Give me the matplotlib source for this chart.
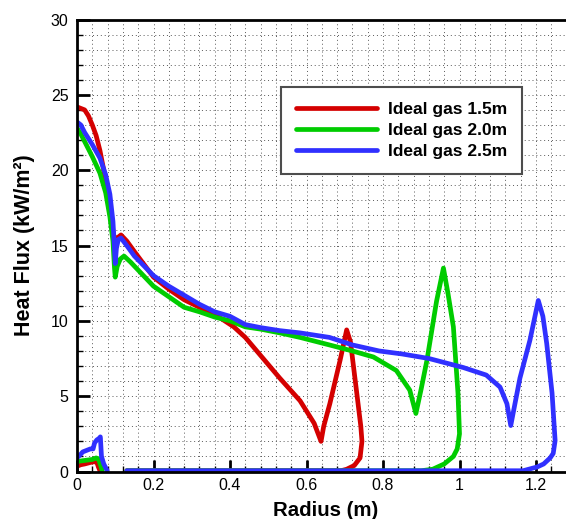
import numpy as np
import matplotlib
matplotlib.use('Agg')
import matplotlib.pyplot as plt
from matplotlib.ticker import MultipleLocator, FuncFormatter

plt.rcParams['font.family'] = ['Liberation Sans', 'DejaVu Sans']

labels = ['Ideal gas 1.5m', 'Ideal gas 2.0m', 'Ideal gas 2.5m']
colors = ['#d40000', '#00cc00', '#3030ff']

# small bump near the axis (inner branch)
red_in_x = [0.0, 0.01, 0.02, 0.035, 0.045, 0.052, 0.056, 0.06]
red_in_y = [0.35, 0.45, 0.5, 0.6, 0.65, 0.6, 0.3, 0.05]
green_in_x = [0.0, 0.01, 0.025, 0.04, 0.05, 0.056, 0.062, 0.066]
green_in_y = [0.65, 0.7, 0.75, 0.8, 0.9, 0.85, 0.4, 0.05]
blue_in_x = [0.0, 0.008, 0.015, 0.025, 0.035, 0.042, 0.046, 0.052, 0.058, 0.061, 0.064, 0.07, 0.076, 0.079]
blue_in_y = [0.9, 1.1, 1.3, 1.4, 1.5, 1.5, 1.9, 2.1, 2.2, 2.3, 1.0, 0.5, 0.2, 0.05]

# main branch: wall profile, peak, then back along zero
red_x = [0.0, 0.01, 0.02, 0.03, 0.04, 0.05, 0.06, 0.07, 0.08, 0.088, 0.095, 0.10, 0.105, 0.115,
         0.13, 0.15, 0.2, 0.24, 0.28, 0.32, 0.36, 0.38, 0.41, 0.44, 0.48, 0.53, 0.583, 0.62, 0.638,
         0.645, 0.661, 0.688, 0.705, 0.715, 0.73, 0.742, 0.745, 0.74, 0.725, 0.705, 0.69, 0.5, 0.13]
red_y = [24.2, 24.1, 24.0, 23.6, 23.0, 22.3, 21.3, 20.0, 18.5, 17.0, 15.8, 15.3, 15.5, 15.7,
         15.3, 14.6, 12.9, 12.1, 11.4, 10.9, 10.4, 10.1, 9.6, 8.9, 7.7, 6.2, 4.7, 3.2, 2.0,
         3.0, 4.5, 7.4, 9.4, 8.6, 5.5, 3.0, 2.0, 0.9, 0.4, 0.15, 0.05, 0.05, 0.05]

green_x = [0.0, 0.01, 0.02, 0.04, 0.06, 0.075, 0.086, 0.094, 0.098, 0.10, 0.105, 0.113, 0.123,
           0.14, 0.2, 0.24, 0.28, 0.32, 0.36, 0.4, 0.44, 0.48, 0.53, 0.583, 0.66, 0.72, 0.775,
           0.835, 0.87, 0.886, 0.9, 0.915, 0.94, 0.958, 0.97, 0.984, 0.996, 1.0, 0.994, 0.984,
           0.96, 0.93, 0.9, 0.13]
green_y = [22.8, 22.4, 21.9, 20.9, 19.8, 18.5, 16.9, 15.3, 13.5, 12.9, 13.6, 14.1, 14.3,
           13.9, 12.3, 11.6, 10.9, 10.6, 10.25, 10.0, 9.6, 9.45, 9.2, 8.9, 8.4, 8.0, 7.6,
           6.7, 5.4, 3.85, 5.5, 7.4, 11.3, 13.5, 11.8, 9.6, 5.2, 2.5, 1.5, 1.0,
           0.5, 0.15, 0.05, 0.05]

blue_x = [0.0, 0.01, 0.02, 0.04, 0.06, 0.075, 0.086, 0.094, 0.098, 0.10, 0.103, 0.108, 0.115,
          0.13, 0.15, 0.2, 0.24, 0.28, 0.32, 0.36, 0.4, 0.44, 0.48, 0.53, 0.583, 0.66, 0.72,
          0.79, 0.85, 0.92, 1.01, 1.07, 1.106, 1.124, 1.134, 1.145, 1.158, 1.184, 1.206, 1.218,
          1.228, 1.242, 1.25, 1.245, 1.237, 1.22, 1.203, 1.166, 0.13]
blue_y = [23.2, 23.0, 22.5, 21.7, 20.8, 19.7, 18.4, 16.6, 14.8, 13.8, 14.8, 15.4, 15.5,
          15.0, 14.3, 13.0, 12.3, 11.7, 11.1, 10.6, 10.3, 9.75, 9.55, 9.35, 9.2, 8.9, 8.4,
          8.0, 7.8, 7.5, 6.9, 6.4, 5.6, 4.5, 3.05, 4.5, 6.2, 8.7, 11.35, 10.3,
          8.5, 5.2, 2.05, 1.2, 0.9, 0.5, 0.3, 0.05, 0.05]

series = [
    (red_in_x, red_in_y, red_x, red_y),
    (green_in_x, green_in_y, green_x, green_y),
    (blue_in_x, blue_in_y, blue_x, blue_y),
]

fig = plt.figure(figsize=(5.66, 5.19), dpi=100)
ax = fig.add_axes([77 / 566, 47.5 / 519, 1.3 * 382.5 / 566, 452 / 519])

for (ix, iy, mx, my), col, lab in zip(series, colors, labels):
    ax.plot(ix, iy, color=col, lw=3.4, solid_capstyle='round', solid_joinstyle='round')
    ax.plot(mx, my, color=col, lw=3.4, label=lab, solid_capstyle='round', solid_joinstyle='round')

ax.set_xlim(0, 1.3)
ax.set_ylim(0, 30)
ax.xaxis.set_major_locator(MultipleLocator(0.2))
ax.xaxis.set_minor_locator(MultipleLocator(0.04))
ax.yaxis.set_major_locator(MultipleLocator(5))
ax.yaxis.set_minor_locator(MultipleLocator(1))
ax.xaxis.set_major_formatter(FuncFormatter(lambda v, p: f'{v:g}'))
ax.grid(which='both', linestyle=(0, (1, 3)), color='0.35', lw=0.7)
ax.set_axisbelow(True)

ax.tick_params(which='major', direction='in', length=9, width=2, labelsize=11.5)
ax.tick_params(axis='x', which='major', pad=5)
ax.tick_params(axis='y', which='major', pad=6)
ax.tick_params(which='minor', direction='in', length=4.5, width=1)
ax.tick_params(axis='both', which='both', top=False, right=False)
for s in ax.spines.values():
    s.set_linewidth(2)

ax.set_xlabel('Radius (m)', fontsize=14.7, fontweight='bold')
ax.set_ylabel('Heat Flux (kW/m²)', fontsize=15.5, fontweight='bold')
ax.xaxis.set_label_coords(0.5, -0.065)
ax.yaxis.set_label_coords(-0.085, 0.5)

leg = ax.legend(loc='upper left', bbox_to_anchor=(281 / 566, 1 - 87 / 519),
                bbox_transform=fig.transFigure, borderaxespad=0, handlelength=4.7,
                fancybox=False, framealpha=1, borderpad=0.85, labelspacing=0.35,
                handletextpad=0.63, prop={'weight': 'bold', 'size': 12.5})
leg.get_frame().set_edgecolor('0.3')
leg.get_frame().set_linewidth(1.5)

fig.savefig('out.png', dpi=100)
